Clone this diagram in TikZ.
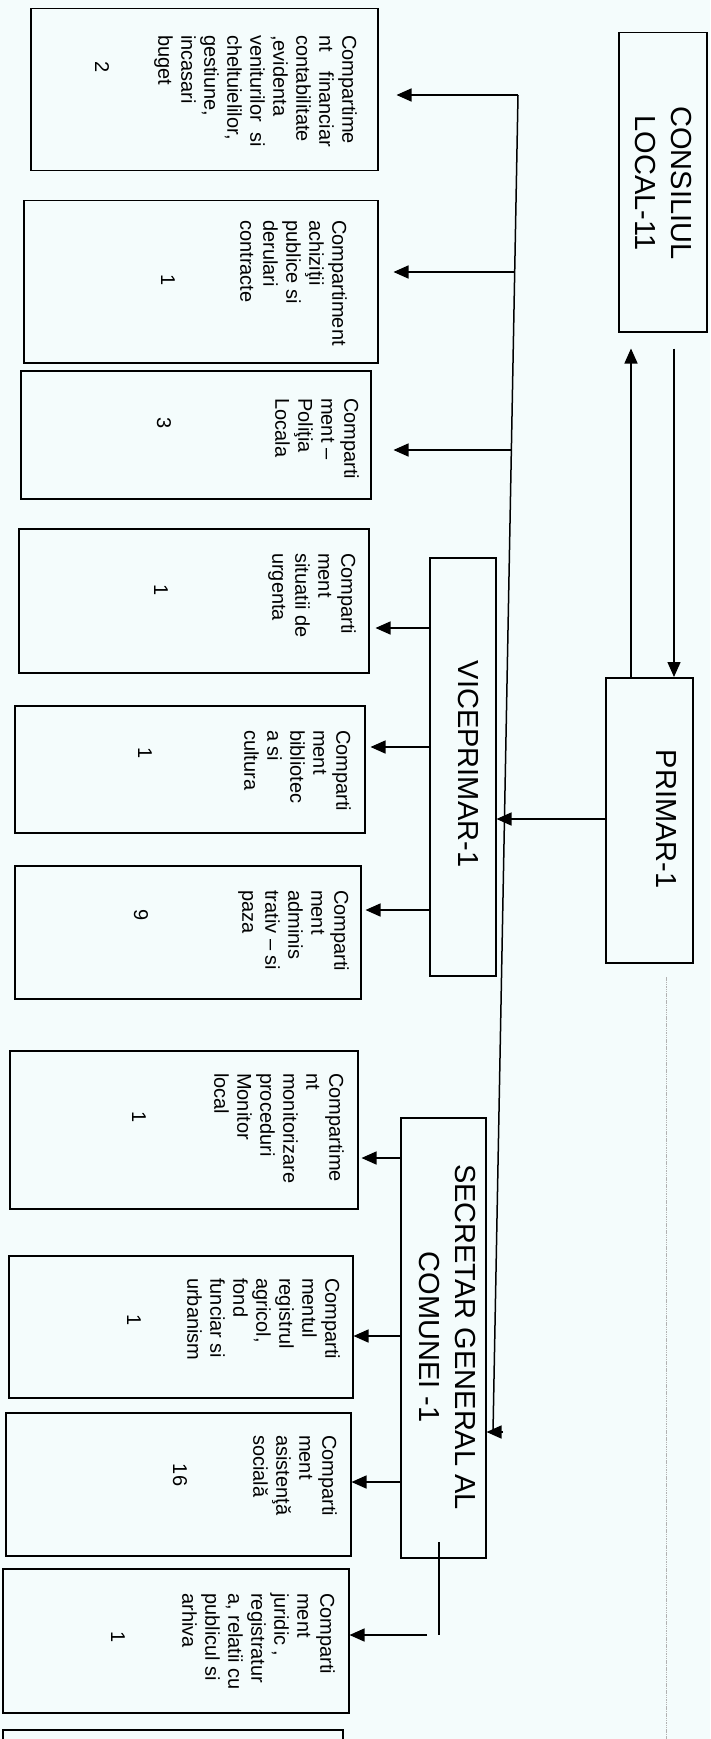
\documentclass[tikz,border=0pt]{standalone}
\usepackage{fontspec}
\setmainfont{Liberation Sans}
\usetikzlibrary{arrows.meta,calc}
\definecolor{paper}{RGB}{244,252,252}
\newcommand\jl[2]{\makebox[#1pt][s]{#2}}
\begin{document}
\begin{tikzpicture}[x=1pt,y=-1pt,
  box/.style={draw, line width=1.5pt, rectangle, inner sep=0pt, anchor=north west},
  txt/.style={rotate=-90, anchor=north west, inner sep=0pt, align=left, font=\fontsize{20}{23}\selectfont},
  num/.style={rotate=-90, inner sep=0pt, font=\fontsize{20}{23}\selectfont},
  ttl/.style={rotate=-90, anchor=north, inner sep=0pt, align=center, font=\fontsize{29}{36}\selectfont},
  arr/.style={line width=1.5pt, -{Triangle[length=15pt,width=13pt]}},
  ln/.style={line width=1.5pt},
  guide/.style={gray!60, line width=1pt, dash pattern=on 1.5pt off 0.8pt}]
\useasboundingbox (0,0) rectangle (710,1739);
\fill[paper] (0,0) rectangle (710,1739);
\clip (0,0) rectangle (710,1739);

% top-level boxes
\node[box, minimum width=88pt, minimum height=299pt] (CONS) at (618,32) {};
\node[box, minimum width=87pt, minimum height=285pt] (PRIM) at (605,677) {};
\node[box, minimum width=66pt, minimum height=418pt] (VICE) at (429,557) {};
\node[box, minimum width=85pt, minimum height=440pt] (SEC) at (400,1117) {};

\node[ttl] (tc) at (692,183) {CONSILIUL\\LOCAL-11};
\node[ttl] (tp) at (677,819) {PRIMAR-1};
\node[ttl] (tv) at (479,764) {VICEPRIMAR-1};
\node[ttl] (ts) at (476,1337) {SECRETAR GENERAL AL\\COMUNEI -1};

% compartment boxes
\node[box, minimum width=347pt, minimum height=162pt] (b1) at (30,8) {};
\node[box, minimum width=354pt, minimum height=162pt] (b2) at (23,200) {};
\node[box, minimum width=350pt, minimum height=128pt] (b3) at (20,370) {};
\node[box, minimum width=350pt, minimum height=144pt] (b4) at (18,528) {};
\node[box, minimum width=350pt, minimum height=127pt] (b5) at (14,705) {};
\node[box, minimum width=346pt, minimum height=133pt] (b6) at (14,865) {};
\node[box, minimum width=348pt, minimum height=158pt] (b7) at (9,1050) {};
\node[box, minimum width=344pt, minimum height=142pt] (b8) at (8,1255) {};
\node[box, minimum width=345pt, minimum height=143pt] (b9) at (5,1412) {};
\node[box, minimum width=346pt, minimum height=144pt] (b10) at (2,1568) {};
\node[box, minimum width=340pt, minimum height=40pt] (b11) at (2,1729) {};

% texts
\node[txt] (t1) at (357,35) {Compartime\\\jl{112}{nt financiar}\\contabilitate\\,evidenta\\\jl{112}{veniturilor si}\\cheltuielilor,\\gestiune,\\incasari\\buget};
\node[txt] (t2) at (347,220) {Compartiment\\achiziţii\\publice si\\derulari\\contracte};
\node[txt] (t3) at (359,398) {Comparti\\ment –\\Poliţia\\Locala};
\node[txt] (t4) at (356,553) {Comparti\\ment\\situatii de\\urgenta};
\node[txt] (t5) at (351,730) {Comparti\\ment\\bibliotec\\a si\\cultura};
\node[txt] (t6) at (349,890) {Comparti\\ment\\adminis\\trativ – si\\paza};
\node[txt] (t7) at (344,1073) {Compartime\\nt\\monitorizare\\proceduri\\Monitor\\local};
\node[txt] (t8) at (340,1278) {Comparti\\mentul\\registrul\\agricol,\\fond\\funciar si\\urbanism};
\node[txt] (t9) at (337,1435) {Comparti\\ment\\asistenţă\\socială};
\node[txt] (t10) at (335,1593) {Comparti\\ment\\juridic ,\\registratur\\a, relatii cu\\publicul si\\arhiva};

\node[num] (n1) at (102,67) {2};
\node[num] (n2) at (168,280) {1};
\node[num] (n3) at (164,423) {3};
\node[num] (n4) at (161,590) {1};
\node[num] (n5) at (145,753) {1};
\node[num] (n6) at (141,915) {9};
\node[num] (n7) at (139,1117) {1};
\node[num] (n8) at (134,1320) {1};
\node[num] (n9) at (180,1475) {16};
\node[num] (n10) at (118,1637) {1};

% consiliul <-> primar
\coordinate (xu) at (631,0);
\coordinate (xd) at (674,0);
\draw[arr, shorten >=16pt] (PRIM.north -| xu) -- (CONS.south -| xu);
\draw[arr, shorten <=16pt] (CONS.south -| xd) -- (PRIM.north -| xd);

% bus
\coordinate (bt) at (518,95);
\coordinate (k2) at (514.7,272);
\coordinate (k3) at (511.4,450);
\coordinate (bb) at (493,1432);
\coordinate (bs) at (503,1432);
\draw[ln] (bt) -- (bb);
\draw[arr, shorten >=18pt] (bt) -- (b1.east |- bt);
\draw[arr, shorten >=15pt] (k2) -- (b2.east |- k2);
\draw[arr, shorten >=22pt] (k3) -- (b3.east |- k3);
\draw[arr] (bs) -- (SEC.east |- bs);

% primar -> viceprimar
\coordinate (yp) at (0,819);
\draw[arr] (PRIM.west |- yp) -- (VICE.east |- yp);

% viceprimar -> compartments
\coordinate (y4) at (0,628);
\coordinate (y5) at (0,747);
\coordinate (y6) at (0,910);
\draw[arr, shorten >=6pt] (VICE.west |- y4) -- (b4.east |- y4);
\draw[arr, shorten >=5pt] (VICE.west |- y5) -- (b5.east |- y5);
\draw[arr, shorten >=4pt] (VICE.west |- y6) -- (b6.east |- y6);

% secretar -> compartments
\coordinate (y7) at (0,1158);
\coordinate (y8) at (0,1336);
\coordinate (y9) at (0,1482);
\draw[arr, shorten >=3pt] (SEC.west |- y7) -- (b7.east |- y7);
\draw[arr] (SEC.west |- y8) -- (b8.east |- y8);
\draw[arr] (SEC.west |- y9) -- (b9.east |- y9);
\coordinate (s1) at (439,1542);
\coordinate (s2) at (439,1635);
\coordinate (s3) at (427,1635);
\draw[line width=1.2pt] (s1) -- (s2);
\draw[arr] (s3) -- (b10.east |- s3);

% guide line
\coordinate (d1) at (666,977);
\coordinate (d2) at (666,1739);
\draw[guide] (d1) -- (d2);
\end{tikzpicture}
\end{document}
